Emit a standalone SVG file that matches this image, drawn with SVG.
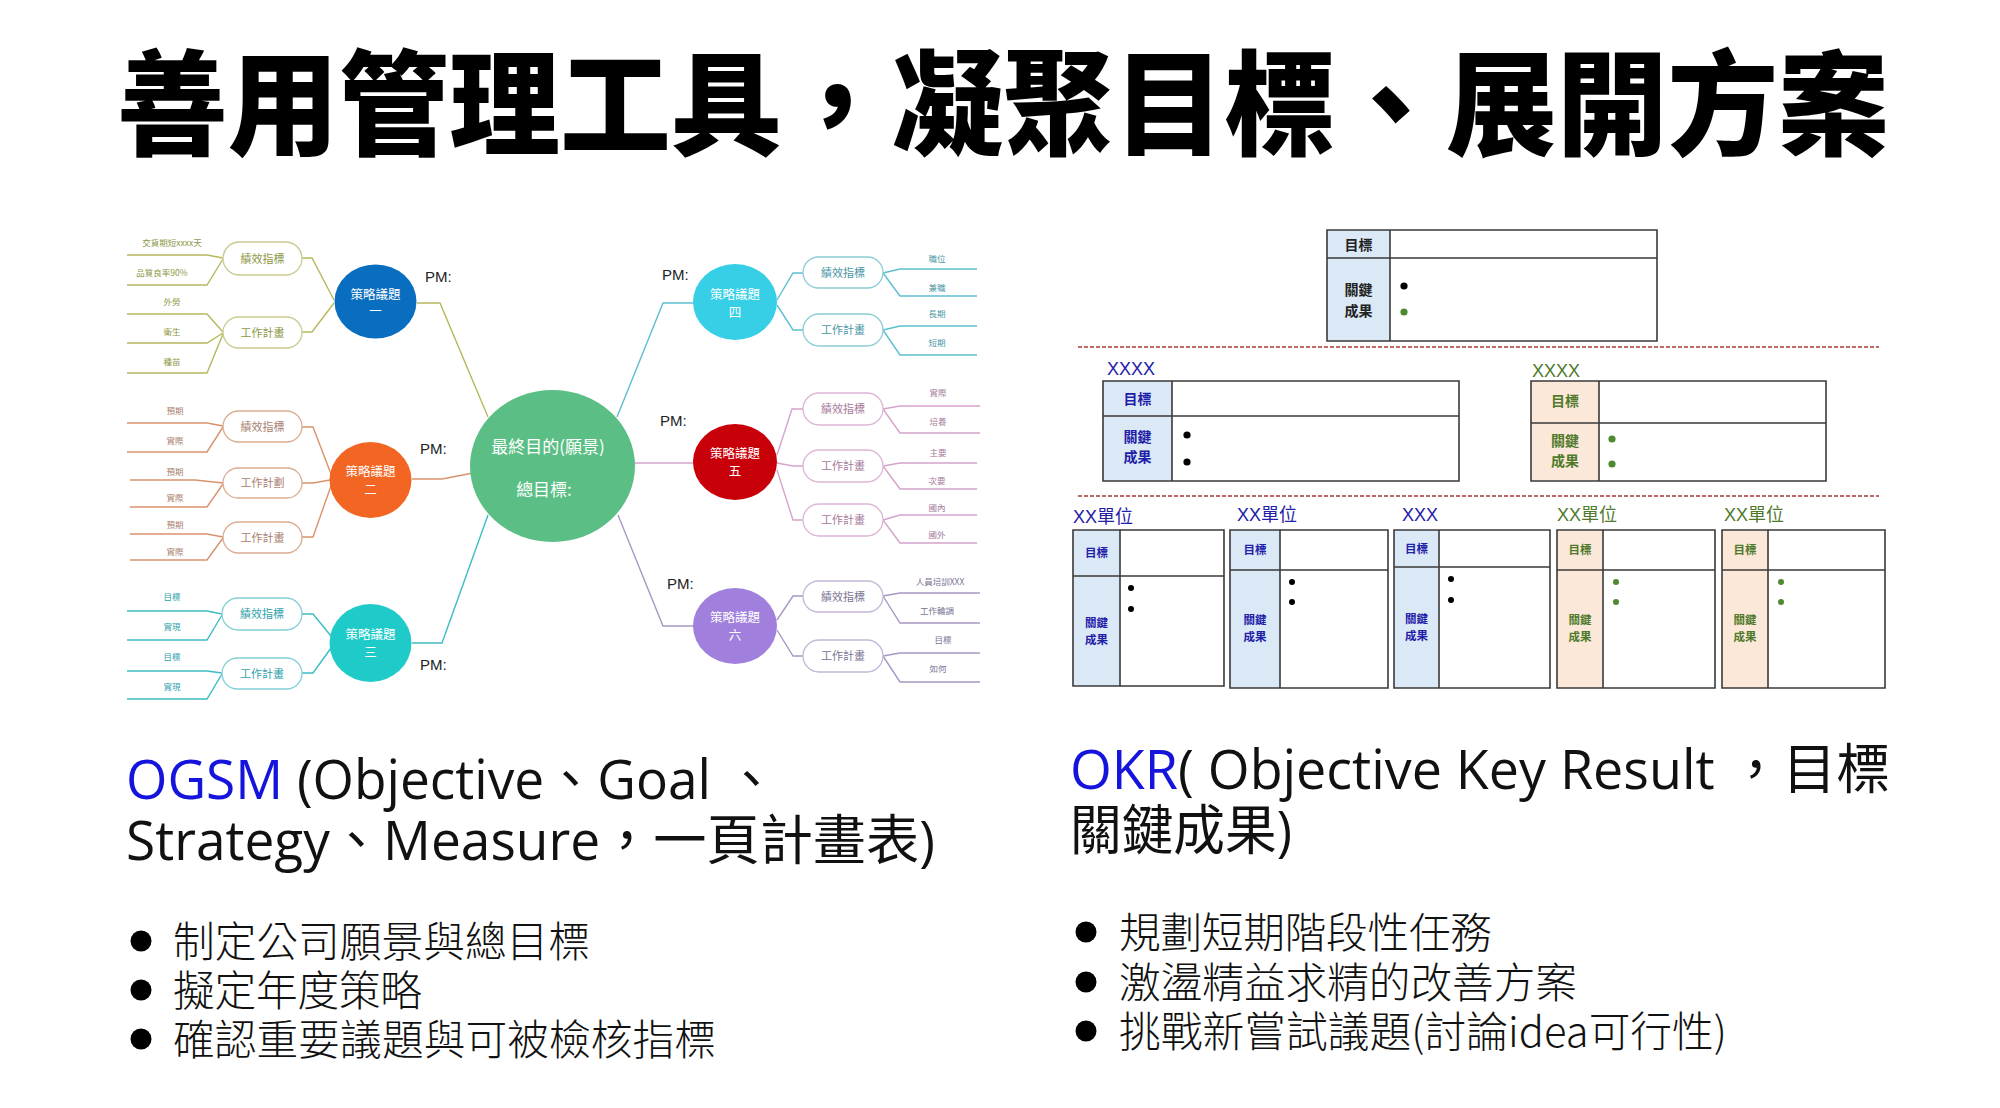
<svg xmlns="http://www.w3.org/2000/svg" width="2000" height="1108" viewBox="0 0 2000 1108">
<style>
text{font-family:"Noto Sans CJK TC","Noto Sans CJK SC",sans-serif}
.title{font-size:114px;font-weight:900;fill:#000}
.head{font-family:"Open Sans","Noto Sans CJK TC",sans-serif;font-size:54px;fill:#111}
.blue{fill:#1414dc}
.bul{font-size:41.7px;font-weight:300;fill:#111}
.cl{font-size:12.5px;fill:#fff;text-anchor:middle}
.pm{font-family:"Liberation Sans",sans-serif;font-size:15px;fill:#222}
.pill{fill:#fff;stroke-width:1.3}
.pt{font-size:11px;text-anchor:middle}
.lf{font-size:8.5px;text-anchor:middle}
.ln{fill:none;stroke-width:1.4}
.okrs{fill:none;stroke:#3a3a3a;stroke-width:1.6}
.lb{fill:#dbe8f5}
.lo{fill:#fce8d8}
.dash{stroke:#a83a34;stroke-width:1.6;stroke-dasharray:4 2;fill:none}
.ok{font-size:14px;font-weight:700;text-anchor:middle}
.oks{font-size:11.5px;font-weight:700;text-anchor:middle}
.nb{fill:#1f20a8}
.ng{fill:#4f7a2c}
.nk{fill:#222}
.hd{font-family:"Liberation Sans","Noto Sans CJK TC",sans-serif;font-size:18px}
.s1{stroke:#b7b85c}.s2{stroke:#d9926e}.s3{stroke:#3cbcc4}.s4{stroke:#5cc0d0}.s5{stroke:#d4a4cc}.s6{stroke:#a898c4}
.p1{stroke:#cbc992}.p2{stroke:#dcab90}.p3{stroke:#84d0d8}.p4{stroke:#8ccdd6}.p5{stroke:#ddb6d6}.p6{stroke:#c4b8d8}
.c1{fill:#8d9746}.c2{fill:#a98070}.c3{fill:#2ea2ac}.c4{fill:#4a96a6}.c5{fill:#a67a9a}.c6{fill:#7a7494}
</style>
<rect x="0" y="0" width="2000" height="1108" fill="#fff"/>

<text id="title" class="title" x="117" y="146" textLength="1772" lengthAdjust="spacingAndGlyphs">善用管理工具，凝聚目標、展開方案</text>

<!-- connectors of the mind map -->
<g id="connectors">
  <!-- section 1 -->
  <path class="ln s1" d="M127,255H207L223,258 M127,285H207L223,259 M127,314H207L223,332 M127,343H207L223,333 M127,373H207L223,334"/>
  <path class="ln s1" d="M302,258H312L334,300 M302,332H312L334,303"/>
  <path class="ln s1" d="M417,303H440L488,417"/>
  <!-- section 2 -->
  <path class="ln s2" d="M127,423H207L223,426 M127,452H207L223,427 M130,480H195L223,483 M130,507H207L223,484 M130,534H207L223,537 M130,560H207L223,538"/>
  <path class="ln s2" d="M302,427H313L331,474 M302,483H313L330,480 M302,537H313L331,486"/>
  <path class="ln s2" d="M412,479H442L473,473"/>
  <!-- section 3 -->
  <path class="ln s3" d="M127,611H207L222,614 M127,640H207L222,615 M127,671H207L222,673 M127,699H207L222,674"/>
  <path class="ln s3" d="M302,614H313L331,636 M302,673H313L331,648"/>
  <path class="ln s3" d="M412,643H442L488,515"/>
  <!-- section 4 -->
  <path class="ln s4" d="M617,417L663,303H693"/>
  <path class="ln s4" d="M777,300L793,273H803 M777,305L793,330H803"/>
  <path class="ln s4" d="M883,273L900,269H977 M883,273L900,296H977 M883,330L900,326H977 M883,330L900,355H977"/>
  <!-- section 5 -->
  <path class="ln s5" d="M634,463H693"/>
  <path class="ln s5" d="M777,455L792,409H803 M777,463L793,466H803 M777,470L793,520H803"/>
  <path class="ln s5" d="M883,409L900,406H980 M883,409L900,433H980 M883,466L900,463H977 M883,466L900,489H977 M883,520L900,515H977 M883,520L900,543H977"/>
  <!-- section 6 -->
  <path class="ln s6" d="M618,515L663,626H693"/>
  <path class="ln s6" d="M777,620L793,596H803 M777,630L793,656H803"/>
  <path class="ln s6" d="M883,596L900,593H980 M883,596L900,623H980 M883,656L900,653H980 M883,656L900,682H980"/>
</g>

<!-- central node -->
<g id="center">
  <ellipse cx="552.5" cy="466" rx="82.5" ry="76" fill="#5bbf85"/>
  <text x="548" y="453" font-size="17" fill="#fff" text-anchor="middle">最終目的(願景)</text>
  <text x="544" y="496" font-size="17" fill="#fff" text-anchor="middle">總目標:</text>
</g>

<!-- strategy circles -->
<g id="strategy1">
  <ellipse cx="375.5" cy="301.5" rx="41" ry="37" fill="#0a6ec0"/>
  <text class="cl" x="375.5" y="298.5">策略議題</text><text class="cl" x="375.5" y="316">一</text>
  <text class="pm" x="425" y="282">PM:</text>
</g>
<g id="strategy2">
  <ellipse cx="370.5" cy="480" rx="41" ry="38" fill="#f26522"/>
  <text class="cl" x="370.5" y="476">策略議題</text><text class="cl" x="370.5" y="494">二</text>
  <text class="pm" x="420" y="454">PM:</text>
</g>
<g id="strategy3">
  <ellipse cx="370.5" cy="643" rx="41" ry="39" fill="#1ecbc8"/>
  <text class="cl" x="370.5" y="639">策略議題</text><text class="cl" x="370.5" y="657">三</text>
  <text class="pm" x="420" y="670">PM:</text>
</g>
<g id="strategy4">
  <ellipse cx="735" cy="302" rx="42" ry="38" fill="#36cfe6"/>
  <text class="cl" x="735" y="299">策略議題</text><text class="cl" x="735" y="317">四</text>
  <text class="pm" x="662" y="280">PM:</text>
</g>
<g id="strategy5">
  <ellipse cx="735" cy="462" rx="42" ry="38" fill="#c8000a"/>
  <text class="cl" x="735" y="458">策略議題</text><text class="cl" x="735" y="476">五</text>
  <text class="pm" x="660" y="426">PM:</text>
</g>
<g id="strategy6">
  <ellipse cx="735" cy="626" rx="42" ry="38" fill="#a080dc"/>
  <text class="cl" x="735" y="622">策略議題</text><text class="cl" x="735" y="640">六</text>
  <text class="pm" x="667" y="589">PM:</text>
</g>

<!-- pill boxes -->
<g id="kpi1"><rect class="pill p1" x="223" y="242" width="79" height="33" rx="16.5"/><text class="pt c1" x="262.5" y="262.5">績效指標</text></g>
<g id="plan1"><rect class="pill p1" x="223" y="317" width="79" height="31" rx="15.5"/><text class="pt c1" x="262.5" y="336.5">工作計畫</text></g>
<g id="kpi2"><rect class="pill p2" x="223" y="411" width="79" height="31" rx="15.5"/><text class="pt c2" x="262.5" y="430.5">績效指標</text></g>
<g id="plan2a"><rect class="pill p2" x="223" y="468" width="79" height="30" rx="15"/><text class="pt c2" x="262.5" y="487">工作計劃</text></g>
<g id="plan2b"><rect class="pill p2" x="223" y="522" width="79" height="31" rx="15.5"/><text class="pt c2" x="262.5" y="541.5">工作計畫</text></g>
<g id="kpi3"><rect class="pill p3" x="222" y="598" width="80" height="32" rx="16"/><text class="pt c3" x="262" y="618">績效指標</text></g>
<g id="plan3"><rect class="pill p3" x="222" y="658" width="80" height="31" rx="15.5"/><text class="pt c3" x="262" y="677.5">工作計畫</text></g>
<g id="kpi4"><rect class="pill p4" x="803" y="257" width="80" height="31" rx="15.5"/><text class="pt c4" x="843" y="276.5">績效指標</text></g>
<g id="plan4"><rect class="pill p4" x="803" y="314" width="80" height="32" rx="16"/><text class="pt c4" x="843" y="334">工作計畫</text></g>
<g id="kpi5"><rect class="pill p5" x="803" y="393" width="80" height="32" rx="16"/><text class="pt c5" x="843" y="413">績效指標</text></g>
<g id="plan5a"><rect class="pill p5" x="803" y="450" width="80" height="32" rx="16"/><text class="pt c5" x="843" y="470">工作計畫</text></g>
<g id="plan5b"><rect class="pill p5" x="803" y="504" width="80" height="32" rx="16"/><text class="pt c5" x="843" y="524">工作計畫</text></g>
<g id="kpi6"><rect class="pill p6" x="803" y="581" width="80" height="31" rx="15.5"/><text class="pt c6" x="843" y="600.5">績效指標</text></g>
<g id="plan6"><rect class="pill p6" x="803" y="640" width="80" height="32" rx="16"/><text class="pt c6" x="843" y="660">工作計畫</text></g>

<!-- leaf labels -->
<g id="leaves1" class="c1">
  <text class="lf" x="172" y="246">交貨期短xxxx天</text>
  <text class="lf" x="162" y="276">品質良率90%</text>
  <text class="lf" x="172" y="305">外勞</text>
  <text class="lf" x="172" y="335">衛生</text>
  <text class="lf" x="172" y="365">種苗</text>
</g>
<g id="leaves2" class="c2">
  <text class="lf" x="175" y="414">預期</text>
  <text class="lf" x="175" y="444">實際</text>
  <text class="lf" x="175" y="475">預期</text>
  <text class="lf" x="175" y="501">實際</text>
  <text class="lf" x="175" y="528">預期</text>
  <text class="lf" x="175" y="555">實際</text>
</g>
<g id="leaves3" class="c3">
  <text class="lf" x="172" y="600">目標</text>
  <text class="lf" x="172" y="630">實現</text>
  <text class="lf" x="172" y="660">目標</text>
  <text class="lf" x="172" y="690">實現</text>
</g>
<g id="leaves4" class="c4">
  <text class="lf" x="937" y="262">職位</text>
  <text class="lf" x="937" y="291">兼職</text>
  <text class="lf" x="937" y="317">長期</text>
  <text class="lf" x="937" y="346">短期</text>
</g>
<g id="leaves5" class="c5">
  <text class="lf" x="938" y="396">實際</text>
  <text class="lf" x="938" y="425">培養</text>
  <text class="lf" x="938" y="456">主要</text>
  <text class="lf" x="937" y="484">次要</text>
  <text class="lf" x="937" y="511">國內</text>
  <text class="lf" x="937" y="538">國外</text>
</g>
<g id="leaves6" class="c6">
  <text class="lf" x="940" y="585">人員培訓XXX</text>
  <text class="lf" x="937" y="614">工作輪調</text>
  <text class="lf" x="943" y="643">目標</text>
  <text class="lf" x="938" y="672">如何</text>
</g>

<!-- OKR tables -->
<g id="okr-top">
  <rect x="1327" y="230" width="330" height="111" fill="#fff"/>
  <rect class="lb" x="1327" y="230" width="63" height="111"/>
  <path class="okrs" d="M1327,230H1657V341H1327Z M1390,230V341 M1327,258H1657"/>
  <text class="ok nk" x="1358.5" y="249.5">目標</text>
  <text class="ok nk" x="1358.5" y="295">關鍵</text>
  <text class="ok nk" x="1358.5" y="316">成果</text>
  <circle cx="1404" cy="286" r="3.6" fill="#000"/>
  <circle cx="1404" cy="312" r="3.6" fill="#4e8a30"/>
</g>
<path class="dash" d="M1078,347H1879"/>
<g id="okr-mid-blue">
  <text class="hd nb" x="1107" y="375">XXXX</text>
  <rect x="1103" y="381" width="356" height="100" fill="#fff"/>
  <rect class="lb" x="1103" y="381" width="69" height="100"/>
  <path class="okrs" d="M1103,381H1459V481H1103Z M1172,381V481 M1103,416H1459"/>
  <text class="ok nb" x="1137.5" y="403.5">目標</text>
  <text class="ok nb" x="1137.5" y="442">關鍵</text>
  <text class="ok nb" x="1137.5" y="462">成果</text>
  <circle cx="1187" cy="435" r="3.6" fill="#000"/>
  <circle cx="1187" cy="462" r="3.6" fill="#000"/>
</g>
<g id="okr-mid-green">
  <text class="hd ng" x="1532" y="377">XXXX</text>
  <rect x="1531" y="381" width="295" height="100" fill="#fff"/>
  <rect class="lo" x="1531" y="381" width="68" height="100"/>
  <path class="okrs" d="M1531,381H1826V481H1531Z M1599,381V481 M1531,423H1826"/>
  <text class="ok ng" x="1565" y="406">目標</text>
  <text class="ok ng" x="1565" y="446">關鍵</text>
  <text class="ok ng" x="1565" y="466">成果</text>
  <circle cx="1612" cy="439" r="3.6" fill="#4e8a30"/>
  <circle cx="1612" cy="464" r="3.6" fill="#4e8a30"/>
</g>
<path class="dash" d="M1078,496H1879"/>
<g id="okr-unit1">
  <text class="hd nb" x="1073" y="523">XX單位</text>
  <rect x="1073" y="530" width="151" height="156" fill="#fff"/>
  <rect class="lb" x="1073" y="530" width="47" height="156"/>
  <path class="okrs" d="M1073,530H1224V686H1073Z M1120,530V686 M1073,576H1224"/>
  <text class="oks nb" x="1096.5" y="557">目標</text>
  <text class="oks nb" x="1096.5" y="627">關鍵</text>
  <text class="oks nb" x="1096.5" y="644">成果</text>
  <circle cx="1131" cy="588" r="3" fill="#000"/>
  <circle cx="1131" cy="609" r="3" fill="#000"/>
</g>
<g id="okr-unit2">
  <text class="hd nb" x="1237" y="521">XX單位</text>
  <rect x="1230" y="530" width="158" height="158" fill="#fff"/>
  <rect class="lb" x="1230" y="530" width="50" height="158"/>
  <path class="okrs" d="M1230,530H1388V688H1230Z M1280,530V688 M1230,570H1388"/>
  <text class="oks nb" x="1255" y="554">目標</text>
  <text class="oks nb" x="1255" y="624">關鍵</text>
  <text class="oks nb" x="1255" y="641">成果</text>
  <circle cx="1292" cy="582" r="3" fill="#000"/>
  <circle cx="1292" cy="602" r="3" fill="#000"/>
</g>
<g id="okr-unit3">
  <text class="hd nb" x="1402" y="521">XXX</text>
  <rect x="1394" y="530" width="156" height="158" fill="#fff"/>
  <rect class="lb" x="1394" y="530" width="45" height="158"/>
  <path class="okrs" d="M1394,530H1550V688H1394Z M1439,530V688 M1394,567H1550"/>
  <text class="oks nb" x="1416.5" y="553">目標</text>
  <text class="oks nb" x="1416.5" y="623">關鍵</text>
  <text class="oks nb" x="1416.5" y="640">成果</text>
  <circle cx="1451" cy="579" r="3" fill="#000"/>
  <circle cx="1451" cy="600" r="3" fill="#000"/>
</g>
<g id="okr-unit4">
  <text class="hd ng" x="1557" y="521">XX單位</text>
  <rect x="1557" y="530" width="158" height="158" fill="#fff"/>
  <rect class="lo" x="1557" y="530" width="46" height="158"/>
  <path class="okrs" d="M1557,530H1715V688H1557Z M1603,530V688 M1557,570H1715"/>
  <text class="oks ng" x="1580" y="554">目標</text>
  <text class="oks ng" x="1580" y="624">關鍵</text>
  <text class="oks ng" x="1580" y="641">成果</text>
  <circle cx="1616" cy="582" r="3" fill="#4e8a30"/>
  <circle cx="1616" cy="602" r="3" fill="#4e8a30"/>
</g>
<g id="okr-unit5">
  <text class="hd ng" x="1724" y="521">XX單位</text>
  <rect x="1722" y="530" width="163" height="158" fill="#fff"/>
  <rect class="lo" x="1722" y="530" width="46" height="158"/>
  <path class="okrs" d="M1722,530H1885V688H1722Z M1768,530V688 M1722,570H1885"/>
  <text class="oks ng" x="1745" y="554">目標</text>
  <text class="oks ng" x="1745" y="624">關鍵</text>
  <text class="oks ng" x="1745" y="641">成果</text>
  <circle cx="1781" cy="582" r="3" fill="#4e8a30"/>
  <circle cx="1781" cy="602" r="3" fill="#4e8a30"/>
</g>

<!-- OGSM text -->
<g id="ogsm-text">
  <text class="head" x="126" y="799" textLength="652" lengthAdjust="spacingAndGlyphs"><tspan class="blue">OGSM</tspan> (Objective、Goal 、</text>
  <text class="head" x="126" y="860" textLength="809" lengthAdjust="spacingAndGlyphs">Strategy、Measure，一頁計畫表)</text>
  <circle cx="141" cy="941" r="10.5" fill="#000"/>
  <text class="bul" x="173" y="957" textLength="417">制定公司願景與總目標</text>
  <circle cx="141" cy="990" r="10.5" fill="#000"/>
  <text class="bul" x="173" y="1006" textLength="249">擬定年度策略</text>
  <circle cx="141" cy="1039" r="10.5" fill="#000"/>
  <text class="bul" x="173" y="1055" textLength="543">確認重要議題與可被檢核指標</text>
</g>

<!-- OKR text -->
<g id="okr-text">
  <text class="head" x="1070" y="789" textLength="820" lengthAdjust="spacingAndGlyphs"><tspan class="blue">OKR</tspan>( Objective Key Result ，目標</text>
  <text class="head" x="1070" y="850" textLength="222" lengthAdjust="spacingAndGlyphs">關鍵成果)</text>
  <circle cx="1086" cy="932" r="10.5" fill="#000"/>
  <text class="bul" x="1119" y="948" textLength="373">規劃短期階段性任務</text>
  <circle cx="1086" cy="982" r="10.5" fill="#000"/>
  <text class="bul" x="1119" y="998" textLength="458">激盪精益求精的改善方案</text>
  <circle cx="1086" cy="1031" r="10.5" fill="#000"/>
  <text class="bul" x="1119" y="1047" textLength="608">挑戰新嘗試議題(討論idea可行性)</text>
</g>
</svg>
